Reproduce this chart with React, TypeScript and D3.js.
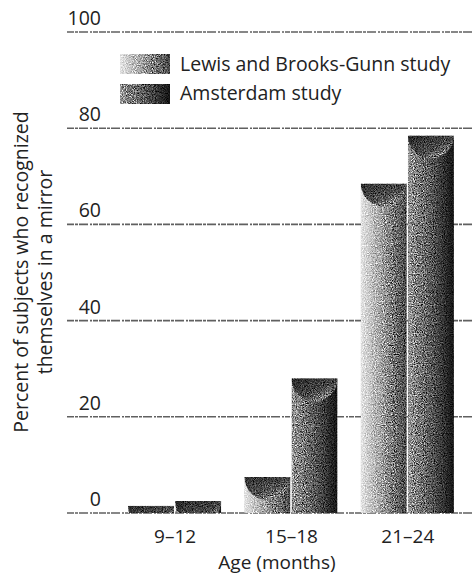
import React from "react";
import * as d3 from "d3";

const categories = ["9–12", "15–18", "21–24"];
const seriesNames = ["Lewis and Brooks-Gunn study", "Amsterdam study"];
const lewisValues = [1.5, 7.5, 68.5];
const amsterdamValues = [2.5, 28, 78.5];
const yTicks = [0, 20, 40, 60, 80, 100];

const W = 474;
const H = 575;
const FONT = "'Open Sans', 'DejaVu Sans', sans-serif";

export default function App() {
  const x = d3
    .scaleBand<string>()
    .domain(categories)
    .range([117, 466])
    .paddingInner(0.19)
    .paddingOuter(0.095);
  const xs = d3
    .scaleBand<number>()
    .domain([0, 1])
    .range([0, x.bandwidth()])
    .padding(0);
  const y = d3.scaleLinear().domain([0, 100]).range([513, 32]);

  const seriesValues = [lewisValues, amsterdamValues];
  const bodyGrad = ["lewisBody", "amsBody"];

  const bars: { key: string; x: number; y: number; w: number; h: number; s: number }[] = [];
  categories.forEach((c, ci) => {
    seriesValues.forEach((vals, si) => {
      const bx = (x(c) as number) + (xs(si) as number);
      const by = y(vals[ci]);
      bars.push({ key: `${ci}-${si}`, x: bx, y: by, w: xs.bandwidth() - 1, h: y(0) - by, s: si });
    });
  });

  return (
    <svg
      width={W}
      height={H}
      style={{ position: "absolute", left: 0, top: 0, background: "#fff" }}
      fontFamily={FONT}
    >
      <defs>
        <linearGradient id="lewisBody" x1="0" x2="1" y1="0" y2="0">
          <stop offset="0" stopColor="#e6e6e6" />
          <stop offset="0.45" stopColor="#a4a4a4" />
          <stop offset="1" stopColor="#484848" />
        </linearGradient>
        <linearGradient id="amsBody" x1="0" x2="1" y1="0" y2="0">
          <stop offset="0" stopColor="#9a9a9a" />
          <stop offset="0.5" stopColor="#5a5a5a" />
          <stop offset="1" stopColor="#141414" />
        </linearGradient>
        <linearGradient id="capGrad" x1="0" y1="0" x2="1" y2="1">
          <stop offset="0" stopColor="#1a1a1a" />
          <stop offset="0.55" stopColor="#4a4a4a" />
          <stop offset="1" stopColor="#c8c8c8" />
        </linearGradient>
        <filter id="grain" x="0" y="0" width="1" height="1" colorInterpolationFilters="sRGB">
          <feTurbulence type="fractalNoise" baseFrequency="0.9" numOctaves="2" seed="7" result="n" />
          <feColorMatrix
            in="n"
            type="matrix"
            values="0.33 0.33 0.33 0 0  0.33 0.33 0.33 0 0  0.33 0.33 0.33 0 0  0 0 0 0 1"
            result="g"
          />
          <feComponentTransfer in="g" result="gc">
            <feFuncR type="linear" slope="3.2" intercept="-1.1" />
            <feFuncG type="linear" slope="3.2" intercept="-1.1" />
            <feFuncB type="linear" slope="3.2" intercept="-1.1" />
          </feComponentTransfer>
          <feBlend in="gc" in2="SourceGraphic" mode="overlay" result="b" />
          <feComposite in="b" in2="SourceGraphic" operator="in" />
        </filter>
        {bars.map((b) => (
          <clipPath id={`clip-${b.key}`} key={b.key}>
            <rect x={b.x} y={b.y} width={b.w} height={b.h} />
          </clipPath>
        ))}
      </defs>

      {/* gridlines */}
      {yTicks.map((t) => (
        <g key={t}>
          <line
            x1={67}
            x2={W}
            y1={y(t)}
            y2={y(t)}
            stroke="#606060"
            strokeWidth={1.6}
            strokeDasharray="7 1 3 1 9 2 2 1 5 1"
          />
          <text
            x={101}
            y={y(t) - 7}
            textAnchor="end"
            fontSize={19.5}
            fill="#222"
          >
            {t}
          </text>
        </g>
      ))}

      {/* bars */}
      {bars.map((b) => {
        const r = b.w / 2;
        return (
          <g key={b.key} clipPath={`url(#clip-${b.key})`}>
            <g filter="url(#grain)">
              <rect x={b.x} y={b.y} width={b.w} height={b.h} fill={`url(#${bodyGrad[b.s]})`} />
              <path
                d={`M${b.x},${b.y} A${r},${r} 0 0 0 ${b.x + b.w},${b.y} Z`}
                fill="url(#capGrad)"
                opacity={0.9}
              />
            </g>
          </g>
        );
      })}

      {/* x tick labels */}
      {categories.map((c) => (
        <text
          key={c}
          x={(x(c) as number) + x.bandwidth() / 2}
          y={543}
          textAnchor="middle"
          fontSize={19}
          fill="#222"
        >
          {c}
        </text>
      ))}

      <text x={277} y={569} textAnchor="middle" fontSize={19} fill="#222">
        Age (months)
      </text>

      {/* y axis title */}
      <text transform="translate(28,272) rotate(-90)" textAnchor="middle" fontSize={19.5} fill="#222">
        Percent of subjects who recognized
      </text>
      <text transform="translate(52,272) rotate(-90)" textAnchor="middle" fontSize={19.5} fill="#222">
        themselves in a mirror
      </text>

      {/* legend */}
      {seriesNames.map((s, i) => (
        <g key={s}>
          <rect
            x={120}
            y={54 + i * 30}
            width={50}
            height={20}
            fill={`url(#${bodyGrad[i]})`}
            filter="url(#grain)"
          />
          <text x={180} y={71 + i * 28.5} fontSize={19.5} fill="#222">
            {s}
          </text>
        </g>
      ))}
    </svg>
  );
}
